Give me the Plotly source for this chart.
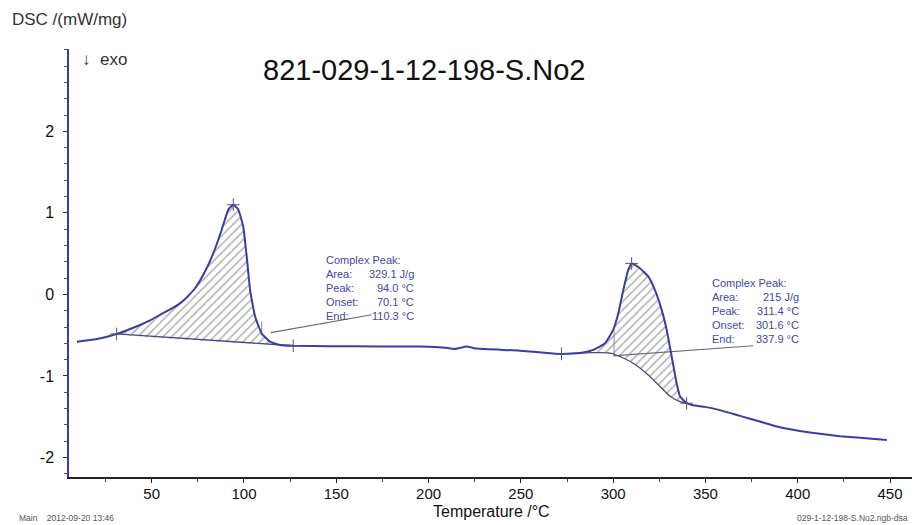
import plotly.graph_objects as go

# ---------------- data ----------------
temp = [9.5, 19.8, 31.0, 43.7, 49.1, 54.5, 60, 65.3, 69.5, 73.5, 78.9, 83.4, 87.9, 91.5, 94.2,
        96.9, 99.6, 101.5, 103.3, 106, 109.6, 114.1, 119.5, 126.7,
        146.6, 173.6, 195.5, 208, 214.3, 220.6, 226, 249.5, 267.4, 272, 282,
        289.2, 295.6, 300, 302.8, 305.5, 308.2, 310, 314.5, 319, 322.6, 326.3, 329, 331.7,
        334.4, 336.2, 339.8, 343.2, 349.7, 357.8, 368.7,
        379.5, 390.3, 401.2, 412, 422.9, 433.7, 448.3]
dsc = [-0.58, -0.55, -0.485, -0.375, -0.32, -0.25, -0.185, -0.11, -0.025, 0.075, 0.28, 0.505, 0.79, 1.04, 1.10,
       1.04, 0.83, 0.46, 0.055, -0.27, -0.48, -0.58, -0.62, -0.63,
       -0.635, -0.638, -0.64, -0.65, -0.67, -0.64, -0.665, -0.69, -0.725, -0.73, -0.72,
       -0.68, -0.60, -0.435, -0.23, 0.055, 0.30, 0.38, 0.32, 0.22, 0.055, -0.19, -0.435, -0.76,
       -1.09, -1.25, -1.335, -1.36, -1.38, -1.42, -1.49,
       -1.56, -1.63, -1.675, -1.71, -1.74, -1.76, -1.785]

# peak 1 integration limits and straight baseline
base1_t = [31.0, 126.7]
base1_v = [-0.485, -0.63]
# peak 2 sigmoidal baseline
base2_t = [272, 289.2, 298.3, 305.5, 310.9, 318.1, 325.4, 330.8, 336.2, 339.8]
base2_v = [-0.73, -0.715, -0.72, -0.78, -0.845, -0.97, -1.13, -1.25, -1.315, -1.335]

# evaluation markers (+)
mark_t = [31.0, 126.7, 94.2, 272, 339.8, 310.0]
mark_v = [-0.485, -0.63, 1.10, -0.73, -1.335, 0.38]

# leader lines from the peaks to the result boxes
lead1_t = [114.5, 169.2]
lead1_v = [-0.47, -0.25]
lead2_t = [300.0, 375.9]
lead2_v = [-0.755, -0.63]

# partial-area limit lines
lim1_t = [109.6, 109.6]
lim1_v = [-0.50, -0.33]
lim2_t = [300.5, 300.5]
lim2_v = [-0.73, -0.43]

peak1_labels = ["Area:", "Peak:", "Onset:", "End:"]
peak1_values = ["329.1 J/g", "94.0 °C", "70.1 °C", "110.3 °C"]
peak2_labels = ["Area:", "Peak:", "Onset:", "End:"]
peak2_values = ["215 J/g", "311.4 °C", "301.6 °C", "337.9 °C"]

x_ticks = [50, 100, 150, 200, 250, 300, 350, 400, 450]
y_ticks = [-2, -1, 0, 1, 2]
y_tick_text = ["-2", "-1", "0", "1", "2"]

# ---------------- figure ----------------
CURVE = "#3c3ca6"
TXT = "#4646a8"
# page has an 8px body margin: figure is drawn 8px right / 8px down
PL, PR, PT, PB = 69, 912, 49, 477          # plot area in page pixels
OFF = 8
FW, FH = 920 - OFF, 525 - OFF
PW, PH = PR - PL, PB - PT


def px(xp):
    return (xp - PL) / PW


def py(yp):
    return (PB - yp) / PH


fig = go.Figure()


def hatch_polygon(t0, t1, bt, bv):
    xs, ys = [], []
    for t, v in zip(temp, dsc):
        if t0 - 1e-9 <= t <= t1 + 1e-9:
            xs.append(t)
            ys.append(v)
    xs += bt[::-1]
    ys += bv[::-1]
    return xs, ys


for (bt, bv) in [(base1_t, base1_v), (base2_t, base2_v)]:
    xs, ys = hatch_polygon(bt[0], bt[-1], bt, bv)
    fig.add_trace(go.Scatter(
        x=xs, y=ys, mode="lines", fill="toself",
        line=dict(width=0, color="rgba(0,0,0,0)", shape="spline", smoothing=0.4),
        fillcolor="rgba(0,0,0,0)",
        fillpattern=dict(shape="/", size=6, solidity=0.25,
                         fgcolor="#5e5e5e", bgcolor="rgba(255,255,255,0)"),
        hoverinfo="skip", showlegend=False))

for lt, lv in [(lead1_t, lead1_v), (lead2_t, lead2_v)]:
    fig.add_trace(go.Scatter(x=lt, y=lv, mode="lines",
                             line=dict(color="#6a6a7a", width=1.2),
                             hoverinfo="skip", showlegend=False))
for lt, lv in [(lim1_t, lim1_v), (lim2_t, lim2_v)]:
    fig.add_trace(go.Scatter(x=lt, y=lv, mode="lines",
                             line=dict(color="#8888aa", width=1),
                             hoverinfo="skip", showlegend=False))

for bt, bv in [(base1_t, base1_v), (base2_t, base2_v)]:
    fig.add_trace(go.Scatter(x=bt, y=bv, mode="lines",
                             line=dict(color="#4a4a7a", width=1.3, shape="spline", smoothing=0.6),
                             hoverinfo="skip", showlegend=False))

fig.add_trace(go.Scatter(x=temp, y=dsc, mode="lines",
                         line=dict(color=CURVE, width=2, shape="spline", smoothing=0.4),
                         showlegend=False))

fig.add_trace(go.Scatter(x=mark_t, y=mark_v, mode="markers",
                         marker=dict(symbol="cross-thin", size=9,
                                     line=dict(color="#555577", width=1)),
                         hoverinfo="skip", showlegend=False))

fig.update_layout(
    width=FW, height=FH,
    margin=dict(l=PL - OFF, r=FW - (PR - OFF), t=PT - OFF, b=FH - (PB - OFF), pad=0),
    paper_bgcolor="white", plot_bgcolor="white",
    font=dict(family="Liberation Sans, Arial, sans-serif", color="#111"),
    xaxis=dict(range=[5.2, 461.9], showgrid=False, zeroline=False,
               showline=True, linecolor="#222", linewidth=1.5,
               tickvals=x_ticks, ticks="outside", ticklen=4, tickcolor="#222",
               ticklabelstandoff=-2,
               tickfont=dict(size=15, color="#111"),
               minor=dict(dtick=25, tick0=0, ticks="outside", ticklen=3, tickcolor="#444")),
    yaxis=dict(range=[-2.24, 3.01], showgrid=False, zeroline=False,
               showline=True, linecolor="#3a3aa8", linewidth=1.5,
               tickvals=y_ticks, ticktext=y_tick_text, ticks="outside", ticklen=4, tickcolor="#333",
               ticklabelstandoff=6,
               tickfont=dict(size=16, color="#111"),
               minor=dict(dtick=0.2, tick0=0, ticks="outside", ticklen=3, tickcolor="#555")),
)

ann = []


def text(t, xp, yp, size, color, anchor="left"):
    return dict(text=t, xref="paper", yref="paper", x=px(xp), y=py(yp),
                xanchor=anchor, yanchor="middle", showarrow=False,
                font=dict(size=size, color=color))


ann.append(text("821-029-1-12-198-S.No2", 424, 70, 29, "#111", "center"))
ann.append(text("↓  exo", 80, 60, 17, "#333"))
ann.append(text("DSC /(mW/mg)", 10, 19, 17, "#333"))
ann.append(text("Temperature /°C", 491, 511, 16, "#111", "center"))
ann.append(text("Main    2012-09-20 13:46", 17, 518, 8.5, "#555"))
ann.append(text("029-1-12-198-S.No2.ngb-dsa", 910, 518, 8.5, "#555", "right"))


def result_box(x_left, x_right, y_top, labels, values):
    ys = [y_top + i * 14 for i in range(5)]
    out = [text("Complex Peak:", x_left, ys[0], 11, TXT)]
    for i, (lab, val) in enumerate(zip(labels, values)):
        out.append(text(lab, x_left, ys[i + 1], 11, TXT))
        out.append(text(val, x_right, ys[i + 1], 11, TXT, "right"))
    return out


ann += result_box(324, 416, 260, peak1_labels, peak1_values)
ann += result_box(710, 801, 283, peak2_labels, peak2_values)
fig.update_layout(annotations=ann)

fig.write_html("out.html")
